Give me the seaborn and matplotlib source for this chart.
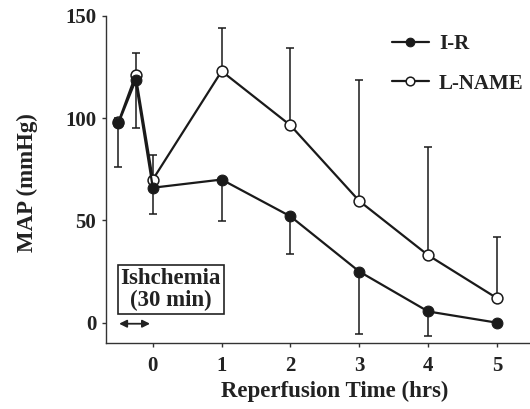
import matplotlib
matplotlib.use("Agg")
import matplotlib.pyplot as plt
import seaborn as sns
import pandas as pd
import numpy as np

# Data
time = [-0.5, -0.25, 0, 1, 2, 3, 4, 5]
ir_map = [97.5, 118.5, 66, 70, 52, 25, 5.5, 0]
ir_err_low = [21.5, 23.5, 13, 20.5, 18.5, 30.5, 12, 0]
lname_map = [98, 121, 70, 123, 96.5, 59.5, 33, 12]
lname_err_up = [2, 11, 12, 21, 38, 59, 53, 30]
xticks = [0, 1, 2, 3, 4, 5]
yticks = [0, 50, 100, 150]

sns.set_theme(style="ticks")
plt.rcParams['font.family'] = ['Liberation Serif', 'DejaVu Serif']
plt.rcParams['font.weight'] = 'bold'

INK = '#1a1a1a'
fig = plt.figure(figsize=(5.3, 4.09), dpi=100)
ax = fig.add_axes([0.2, 0.161, 0.8, 0.8])

df = pd.DataFrame({
    "time": time * 2,
    "MAP": lname_map + ir_map,
    "group": ["L-NAME"] * len(time) + ["I-R"] * len(time),
})

# error bars
ax.errorbar(time, lname_map, yerr=[np.zeros(len(time)), lname_err_up], fmt='none',
            ecolor=INK, elinewidth=1.1, capsize=2.8, capthick=1.1, zorder=1)
ax.errorbar(time, ir_map, yerr=[ir_err_low, np.zeros(len(time))], fmt='none',
            ecolor=INK, elinewidth=1.1, capsize=2.8, capthick=1.1, zorder=1)

sns.lineplot(data=df[df.group == "L-NAME"], x="time", y="MAP", ax=ax, color=INK,
             marker='o', markersize=7.8, markerfacecolor='white', markeredgecolor=INK,
             markeredgewidth=1.1, linewidth=1.6, label="L-NAME", zorder=3)
sns.lineplot(data=df[df.group == "I-R"], x="time", y="MAP", ax=ax, color=INK,
             marker='o', markersize=7.8, markerfacecolor=INK, markeredgecolor=INK,
             linewidth=1.6, label="I-R", zorder=4)

ax.set_xlim(-0.68, 5.48)
ax.set_ylim(-10, 150)
ax.set_xticks(xticks)
ax.set_yticks(yticks)
ax.tick_params(axis='both', labelsize=15, length=3, width=1, color='#333333')
ax.tick_params(axis='x', pad=6)
ax.tick_params(axis='y', pad=4)
for lab in ax.get_xticklabels() + ax.get_yticklabels():
    lab.set_fontweight('bold')
    lab.set_color('#222222')
ax.set_xlabel("Reperfusion Time (hrs)", fontsize=16.5, fontweight='bold', color='#222222')
ax.set_ylabel("MAP (mmHg)", fontsize=16.5, fontweight='bold', color='#222222')
ax.xaxis.set_label_coords(0.54, -0.115)
ax.yaxis.set_label_coords(-0.16, 0.49)
sns.despine(ax=ax)
for s in ['left', 'bottom']:
    ax.spines[s].set_color('#333333')
    ax.spines[s].set_linewidth(1)

handles, labels = ax.get_legend_handles_labels()
order = [labels.index("I-R"), labels.index("L-NAME")]
leg = ax.legend([handles[i] for i in order], [labels[i] for i in order],
                loc='upper left', bbox_to_anchor=(0.74, 0.917), bbox_transform=fig.transFigure,
                borderaxespad=0, borderpad=0, frameon=False,
                markerscale=0.8, handlelength=1.75, prop={'weight': 'bold', 'size': 15},
                labelspacing=0.95, handletextpad=0.5)
for t in leg.get_texts():
    t.set_color('#222222')

# Ishchemia box & arrow
ax.text(0.26, 16.3, "Ishchemia\n(30 min)", ha='center', va='center', fontsize=16.5,
        fontweight='bold', linespacing=1.05, color='#222222',
        bbox=dict(boxstyle='square,pad=0.12', facecolor='white', edgecolor='#222222', linewidth=1.2))
ax.annotate("", xy=(-0.53, -0.5), xytext=(0.0, -0.5),
            arrowprops=dict(arrowstyle='<|-|>', color='#222222', lw=1.3, mutation_scale=11))

fig.savefig("out.png", dpi=100)
